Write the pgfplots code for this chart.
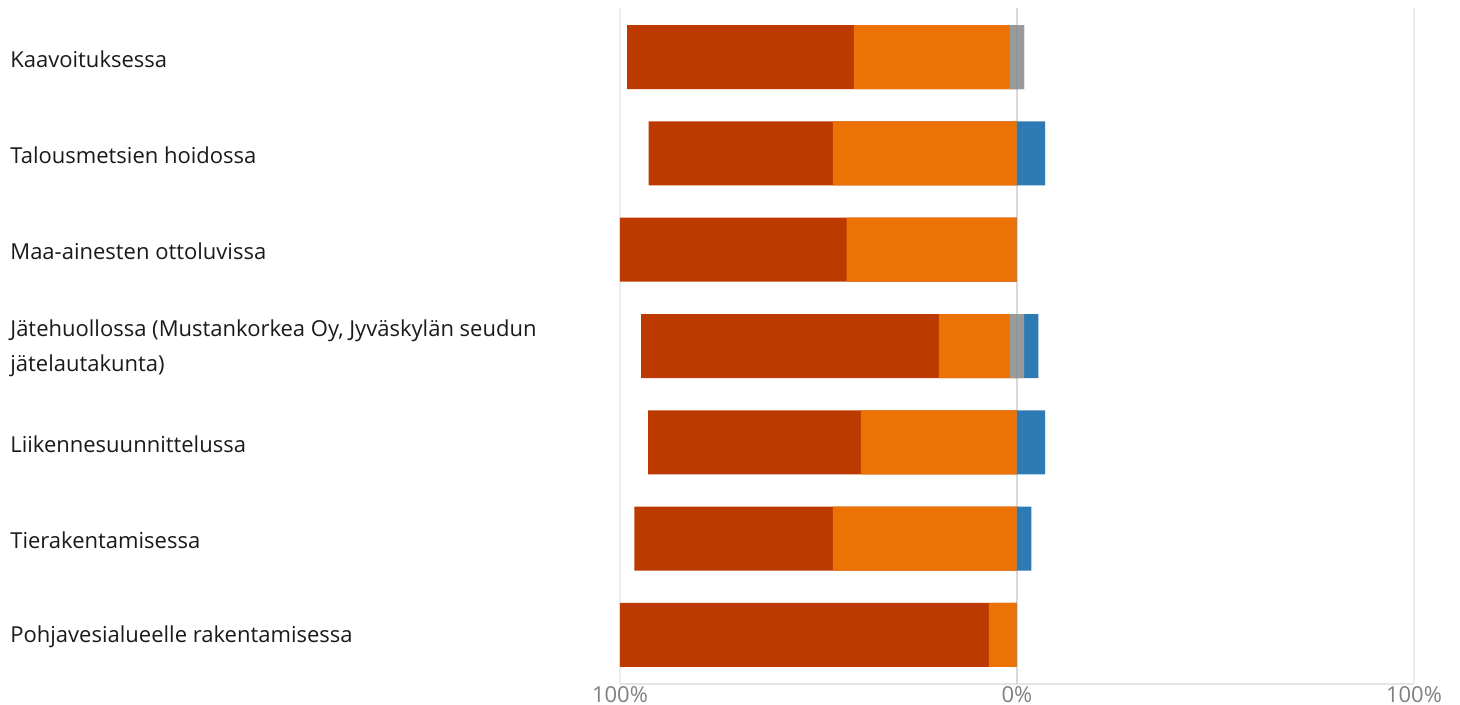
\documentclass[border=0pt]{standalone}
\usepackage{pgfplots}
\pgfplotsset{compat=1.18}
\usepackage{pgfplotstable}
\usepackage{fontspec}
\setmainfont{Open Sans}
\definecolor{cDark}{HTML}{BC3A00}
\definecolor{cOrange}{HTML}{EC7206}
\definecolor{cGray}{HTML}{9A9A9A}
\definecolor{cBlue}{HTML}{2E7AB5}
\definecolor{cText}{HTML}{1A1A1A}
\definecolor{cTick}{HTML}{808080}
% segment end positions (in %), each bar drawn from 0 to its end, nearer segments on top
\pgfplotstableread{
y darkend orangeend grayleft blueend grayright
0 -98.2 -41.1 -1.8 1.8 1.8
1 -92.8 -46.4 0 7.1 0
2 -100 -42.9 0 0 0
3 -94.7 -19.7 -1.8 5.4 1.8
4 -92.9 -39.3 0 7.1 0
5 -96.4 -46.4 0 3.6 0
6 -100 -7.1 0 0 0
}\datatable
\begin{document}
\begin{tikzpicture}
\useasboundingbox (-310pt,-10.5pt) rectangle (420pt,342pt);
\begin{axis}[at={(0,0)}, anchor=south west, scale only axis,
  width=397pt, height=338pt,
  xbar, bar width=32pt, bar shift=0pt,
  xmin=-100, xmax=100, ymin=-0.51, ymax=6.51, y dir=reverse,
  xtick={-100,0,100}, xticklabels={100\%,0\%,100\%},
  ytick={0,...,6},
  yticklabels={Kaavoituksessa, Talousmetsien hoidossa, Maa-ainesten ottoluvissa, {Jätehuollossa (Mustankorkea Oy, Jyväskylän seudun\\jätelautakunta)}, Liikennesuunnittelussa, Tierakentamisessa, Pohjavesialueelle rakentamisessa},
  yticklabel style={anchor=west, align=left, inner sep=0pt, xshift=-305pt, yshift=-1pt, text=cText, font=\fontsize{11pt}{17.5pt}\selectfont},
  xticklabel style={text=cTick, font=\fontsize{11pt}{13pt}\selectfont, inner sep=1pt},
  major tick length=0pt,
  axis x line*=bottom, axis y line*=left,
  y axis line style={draw=none},
  x axis line style={draw=black!10, line width=0.8pt, -},
  xmajorgrids, grid style={draw=black!7, line width=0.9pt},
  extra x ticks={0}, extra x tick labels={},
  extra x tick style={grid style={draw=black!15, line width=0.9pt}},
]
\addplot[draw=none, fill=cDark] table[x=darkend, y=y] {\datatable};
\addplot[draw=none, fill=cOrange] table[x=orangeend, y=y] {\datatable};
\addplot[draw=none, fill=cGray] table[x=grayleft, y=y] {\datatable};
\addplot[draw=none, fill=cBlue] table[x=blueend, y=y] {\datatable};
\addplot[draw=none, fill=cGray] table[x=grayright, y=y] {\datatable};
\end{axis}
\end{tikzpicture}
\end{document}
